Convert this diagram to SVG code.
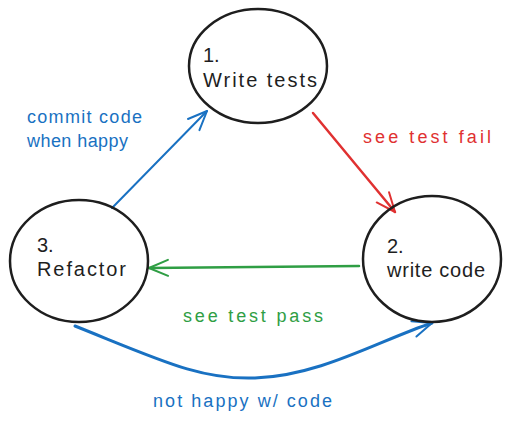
<svg xmlns="http://www.w3.org/2000/svg" width="511" height="423" viewBox="0 0 511 423">
<style>
.node{fill:none;stroke:#1e1e1e;stroke-width:2.5}
.nt{font-family:"Liberation Sans",Arial,sans-serif;font-size:20px;fill:#1e1e1e}
.lb{font-family:"Liberation Sans",Arial,sans-serif;font-size:18px}
.e{fill:none;stroke-linecap:round;stroke-linejoin:round}
</style>
<defs>
<marker id="ab" markerUnits="userSpaceOnUse" markerWidth="30" markerHeight="30" refX="0" refY="0" viewBox="-20 -15 30 30" orient="auto" overflow="visible"><path d="M-19 -8 L0 0 L-19 8" fill="none" stroke="#1971c2" stroke-width="2" stroke-linecap="round" stroke-linejoin="round"/></marker>
<marker id="ar" markerUnits="userSpaceOnUse" markerWidth="30" markerHeight="30" refX="0" refY="0" viewBox="-20 -15 30 30" orient="auto" overflow="visible"><path d="M-19 -8 L0 0 L-19 8" fill="none" stroke="#e03131" stroke-width="2" stroke-linecap="round" stroke-linejoin="round"/></marker>
<marker id="ag" markerUnits="userSpaceOnUse" markerWidth="30" markerHeight="30" refX="0" refY="0" viewBox="-20 -15 30 30" orient="auto" overflow="visible"><path d="M-19 -8 L0 0 L-19 8" fill="none" stroke="#2f9e44" stroke-width="2" stroke-linecap="round" stroke-linejoin="round"/></marker>
</defs>
<rect width="511" height="423" fill="#ffffff"/>
<g id="connectors">
<path class="e" d="M112 208 L207 111" stroke="#1971c2" stroke-width="2" marker-end="url(#ab)"/>
<path class="e" d="M313 113 L395 212" stroke="#e03131" stroke-width="2.5" marker-end="url(#ar)"/>
<path class="e" d="M359 266 L149 268" stroke="#2f9e44" stroke-width="2.5" marker-end="url(#ag)"/>
<path class="e" d="M75 326 C 160 360, 200 380, 255 378 C 320 376, 380 340, 432 323" stroke="#1971c2" stroke-width="3" marker-end="url(#ab)"/>
<text class="lb" x="27" y="123" fill="#1971c2" textLength="115" lengthAdjust="spacing">commit code</text>
<text class="lb" x="27" y="147" fill="#1971c2" textLength="101" lengthAdjust="spacing">when happy</text>
<text class="lb" x="363" y="143" fill="#e03131" textLength="128" lengthAdjust="spacing">see test fail</text>
<text class="lb" x="183" y="322" fill="#2f9e44" textLength="140" lengthAdjust="spacing">see test pass</text>
<text class="lb" x="153" y="407" fill="#1971c2" textLength="179" lengthAdjust="spacing">not happy w/ code</text>
</g>
<g id="node1">
<ellipse class="node" cx="258" cy="66" rx="69" ry="57"/>
<text class="nt" x="203" y="62">1.</text>
<text class="nt" x="203" y="87" textLength="114" lengthAdjust="spacing">Write tests</text>
</g>
<g id="node2">
<ellipse class="node" cx="432" cy="259" rx="69" ry="63"/>
<text class="nt" x="387" y="253">2.</text>
<text class="nt" x="387" y="277" textLength="98" lengthAdjust="spacing">write code</text>
</g>
<g id="node3">
<ellipse class="node" cx="79" cy="261" rx="69" ry="61"/>
<text class="nt" x="37" y="252">3.</text>
<text class="nt" x="37" y="276" textLength="89" lengthAdjust="spacing">Refactor</text>
</g>
</svg>
